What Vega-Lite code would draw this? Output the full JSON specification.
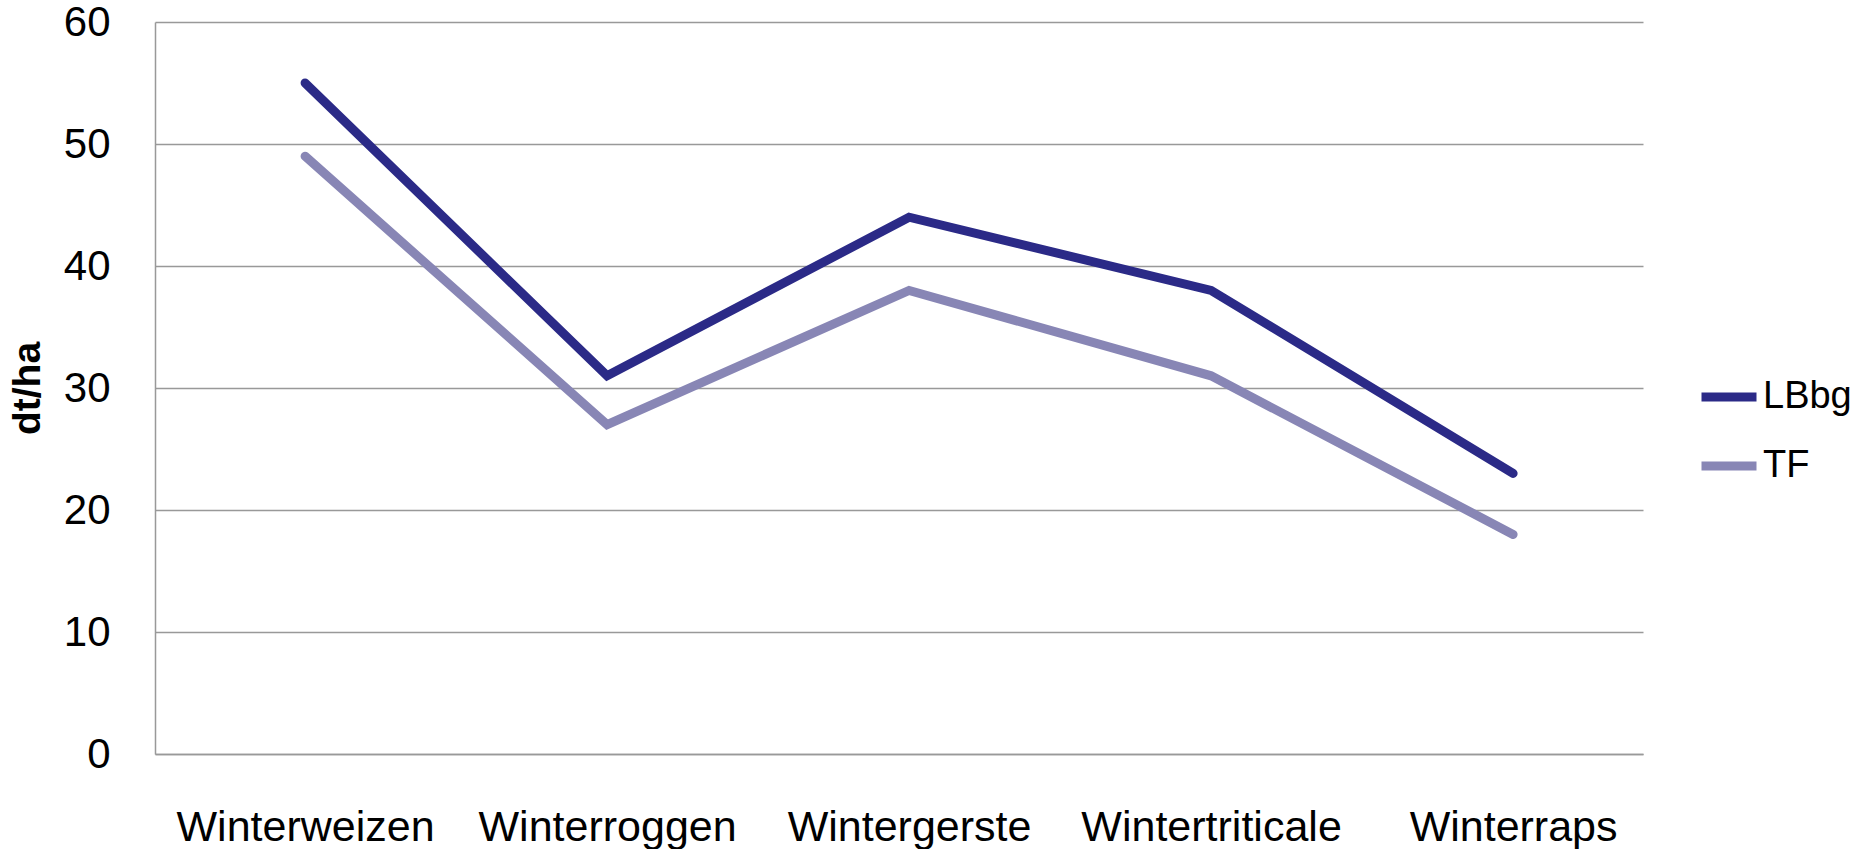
{
  "$schema": "https://vega.github.io/schema/vega-lite/v6.json",
  "autosize": "none",
  "width": 1488,
  "height": 732,
  "padding": {"left": 155, "top": 22, "right": 210, "bottom": 95},
  "background": "white",
  "config": {
    "view": {"stroke": null},
    "font": "'Liberation Sans', Arial, sans-serif"
  },
  "data": {
    "values": [
      {"Kultur": "Winterweizen", "Serie": "LBbg", "Wert": 55},
      {"Kultur": "Winterroggen", "Serie": "LBbg", "Wert": 31},
      {"Kultur": "Wintergerste", "Serie": "LBbg", "Wert": 44},
      {"Kultur": "Wintertriticale", "Serie": "LBbg", "Wert": 38},
      {"Kultur": "Winterraps", "Serie": "LBbg", "Wert": 23},
      {"Kultur": "Winterweizen", "Serie": "TF", "Wert": 49},
      {"Kultur": "Winterroggen", "Serie": "TF", "Wert": 27},
      {"Kultur": "Wintergerste", "Serie": "TF", "Wert": 38},
      {"Kultur": "Wintertriticale", "Serie": "TF", "Wert": 31},
      {"Kultur": "Winterraps", "Serie": "TF", "Wert": 18}
    ]
  },
  "mark": {"type": "line", "strokeWidth": 9, "strokeCap": "round", "strokeJoin": "miter"},
  "encoding": {
    "x": {
      "field": "Kultur",
      "type": "nominal",
      "sort": null,
      "scale": {"type": "point", "padding": 0.4636, "align": 0.536},
      "axis": {
        "title": null,
        "labelAngle": 0,
        "labelFont": "'Liberation Sans', Arial, sans-serif",
        "labelFontSize": 43,
        "labelLimit": 0,
        "labelColor": "#000000",
        "labelPadding": 52,
        "ticks": false,
        "domainColor": "#999999",
        "domainWidth": 1.5,
        "grid": false
      }
    },
    "y": {
      "field": "Wert",
      "type": "quantitative",
      "scale": {"domain": [0, 60], "nice": false},
      "axis": {
        "title": "dt/ha",
        "titleFont": "'Liberation Sans', Arial, sans-serif",
        "titleFontWeight": "bold",
        "titleFontSize": 39,
        "titleColor": "#000000",
        "titleX": -128,
        "titleY": 366,
        "titleAngle": -90,
        "titleBaseline": "middle",
        "titleAlign": "center",
        "values": [0, 10, 20, 30, 40, 50, 60],
        "labelFont": "'Liberation Sans', Arial, sans-serif",
        "labelFontSize": 42,
        "labelColor": "#000000",
        "labelPadding": 45,
        "ticks": false,
        "domainColor": "#999999",
        "domainWidth": 1.5,
        "grid": true,
        "gridColor": "#999999",
        "gridWidth": 1.5
      }
    },
    "color": {
      "field": "Serie",
      "type": "nominal",
      "scale": {"domain": ["LBbg", "TF"], "range": ["#2B2A87", "#8886B5"]},
      "legend": {
        "title": null,
        "orient": "none",
        "legendX": 1542,
        "legendY": 343,
        "symbolType": "stroke",
        "symbolSize": 3025,
        "symbolStrokeWidth": 9,
        "labelFont": "'Liberation Sans', Arial, sans-serif",
        "labelFontSize": 38,
        "labelColor": "#000000",
        "labelOffset": 2,
        "rowPadding": 18
      }
    }
  }
}
